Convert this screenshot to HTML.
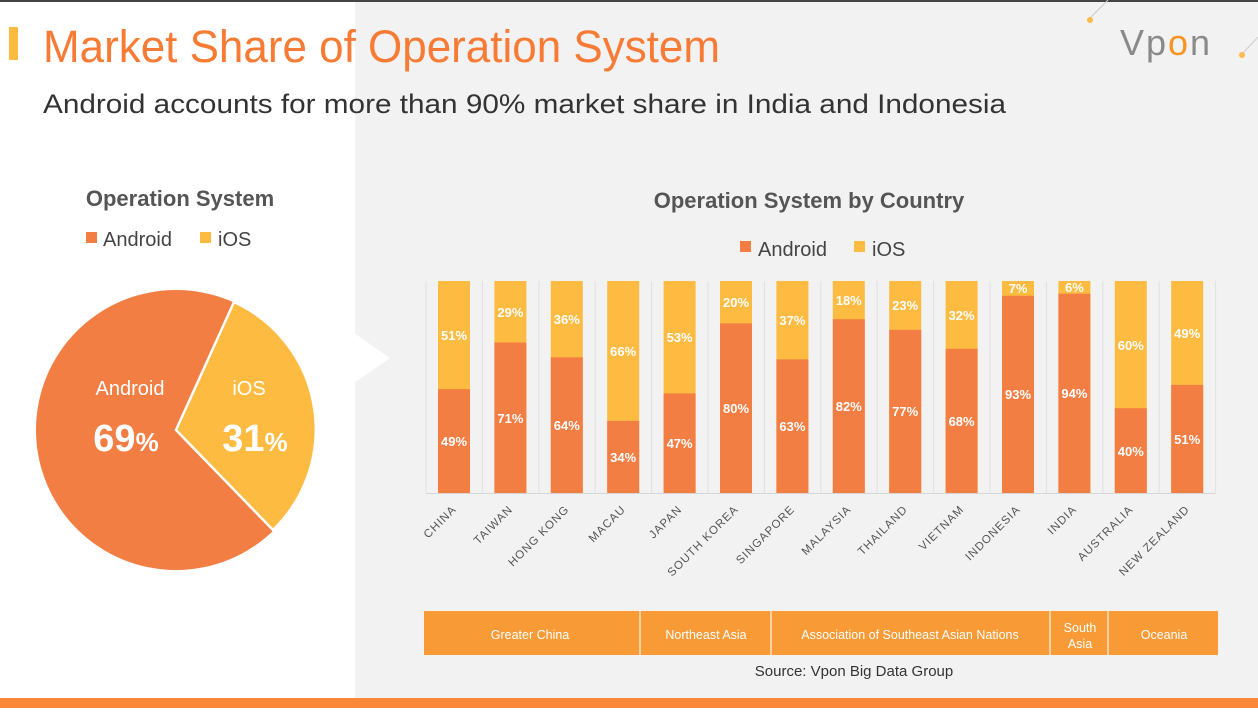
<!DOCTYPE html>
<html><head><meta charset="utf-8"><style>
html,body{margin:0;padding:0;}
body{width:1258px;height:708px;overflow:hidden;background:#fff;font-family:"Liberation Sans",sans-serif;}
</style></head><body>
<svg width="1258" height="708" xmlns="http://www.w3.org/2000/svg" font-family="Liberation Sans, sans-serif">
<rect x="0" y="0" width="1258" height="708" fill="#fff"/>
<rect x="355" y="0" width="903" height="698" fill="#f2f2f2"/>
<polygon points="354,333 390,358 354,383" fill="#fff"/>
<rect x="0" y="0" width="1258" height="2" fill="#444"/>
<rect x="0" y="698" width="1258" height="10" fill="#f98838"/>
<line x1="1090" y1="18" x2="1108" y2="0" stroke="#ccc" stroke-width="1"/>
<circle cx="1090" cy="20" r="3" fill="#fdb94a"/>
<line x1="1243" y1="53" x2="1258" y2="37" stroke="#ccc" stroke-width="1"/>
<circle cx="1242" cy="55" r="3" fill="#fdb94a"/>
<text x="1120" y="55" font-size="36" fill="#8a8a8a" textLength="90">Vp<tspan fill="#f7931e">o</tspan>n</text>
<rect x="9" y="27" width="9" height="33" fill="#fdbb3f"/>
<text x="43" y="62" font-size="45" fill="#f77b35" textLength="677" lengthAdjust="spacingAndGlyphs">Market Share of Operation System</text>
<text x="43" y="113" font-size="27" fill="#333" textLength="963" lengthAdjust="spacingAndGlyphs">Android accounts for more than 90% market share in India and Indonesia</text>
<text x="180" y="206" font-size="22" font-weight="bold" fill="#555" text-anchor="middle">Operation System</text>
<rect x="86" y="232" width="11" height="11" fill="#f27e43"/>
<text x="103" y="246" font-size="20" fill="#444">Android</text>
<rect x="200" y="232" width="11" height="11" fill="#febb41"/>
<text x="218" y="246" font-size="20" fill="#444">iOS</text>
<circle cx="176" cy="430" r="140" fill="#f27e43"/>
<path d="M176,430 L234,302 A140,140 0 0 1 273,530 Z" fill="#febb41" stroke="#fff" stroke-width="2.5"/>
<text x="130" y="395" font-size="20" fill="#fff" text-anchor="middle">Android</text>
<text x="126" y="451" font-size="38" font-weight="bold" fill="#fff" text-anchor="middle">69<tspan font-size="26">%</tspan></text>
<text x="249" y="395" font-size="20" fill="#fff" text-anchor="middle">iOS</text>
<text x="255" y="451" font-size="38" font-weight="bold" fill="#fff" text-anchor="middle">31<tspan font-size="26">%</tspan></text>
<text x="809" y="208" font-size="22" font-weight="bold" fill="#555" text-anchor="middle">Operation System by Country</text>
<rect x="740" y="241" width="11" height="11" fill="#f27e43"/>
<text x="758" y="256" font-size="20" fill="#444">Android</text>
<rect x="854" y="241" width="11" height="11" fill="#febb41"/>
<text x="872" y="256" font-size="20" fill="#444">iOS</text>
<g stroke="#e0e0e0" stroke-width="1">
<line x1="426" y1="281" x2="426" y2="493"/><line x1="482.4" y1="281" x2="482.4" y2="493"/><line x1="538.8" y1="281" x2="538.8" y2="493"/><line x1="595.2" y1="281" x2="595.2" y2="493"/><line x1="651.6" y1="281" x2="651.6" y2="493"/><line x1="708" y1="281" x2="708" y2="493"/><line x1="764.4" y1="281" x2="764.4" y2="493"/><line x1="820.8" y1="281" x2="820.8" y2="493"/><line x1="877.2" y1="281" x2="877.2" y2="493"/><line x1="933.6" y1="281" x2="933.6" y2="493"/><line x1="990" y1="281" x2="990" y2="493"/><line x1="1046.4" y1="281" x2="1046.4" y2="493"/><line x1="1102.8" y1="281" x2="1102.8" y2="493"/><line x1="1159.2" y1="281" x2="1159.2" y2="493"/><line x1="1215.6" y1="281" x2="1215.6" y2="493"/>
<line x1="426" y1="493.5" x2="1215.6" y2="493.5" stroke="#d6d6d6"/>
</g>
<g fill="#febb41">
<rect x="438" y="281" width="32" height="212"/><rect x="494.4" y="281" width="32" height="212"/><rect x="550.8" y="281" width="32" height="212"/><rect x="607.2" y="281" width="32" height="212"/><rect x="663.6" y="281" width="32" height="212"/><rect x="720" y="281" width="32" height="212"/><rect x="776.4" y="281" width="32" height="212"/><rect x="832.8" y="281" width="32" height="212"/><rect x="889.2" y="281" width="32" height="212"/><rect x="945.6" y="281" width="32" height="212"/><rect x="1002" y="281" width="32" height="212"/><rect x="1058.4" y="281" width="32" height="212"/><rect x="1114.8" y="281" width="32" height="212"/><rect x="1171.2" y="281" width="32" height="212"/>
</g>
<g fill="#f27e43">
<rect x="438" y="389.1" width="32" height="103.9"/>
<rect x="494.4" y="342.5" width="32" height="150.5"/>
<rect x="550.8" y="357.3" width="32" height="135.7"/>
<rect x="607.2" y="420.9" width="32" height="72.1"/>
<rect x="663.6" y="393.4" width="32" height="99.6"/>
<rect x="720" y="323.4" width="32" height="169.6"/>
<rect x="776.4" y="359.4" width="32" height="133.6"/>
<rect x="832.8" y="319.2" width="32" height="173.8"/>
<rect x="889.2" y="329.8" width="32" height="163.2"/>
<rect x="945.6" y="348.8" width="32" height="144.2"/>
<rect x="1002" y="295.8" width="32" height="197.2"/>
<rect x="1058.4" y="293.7" width="32" height="199.3"/>
<rect x="1114.8" y="408.2" width="32" height="84.8"/>
<rect x="1171.2" y="384.9" width="32" height="108.1"/>
</g>
<g font-size="13" font-weight="bold" fill="#fff" text-anchor="middle">
<text x="454" y="446">49%</text><text x="454" y="340">51%</text>
<text x="510.4" y="423">71%</text><text x="510.4" y="317">29%</text>
<text x="566.8" y="430">64%</text><text x="566.8" y="324">36%</text>
<text x="623.2" y="462">34%</text><text x="623.2" y="356">66%</text>
<text x="679.6" y="448">47%</text><text x="679.6" y="342">53%</text>
<text x="736" y="413">80%</text><text x="736" y="307">20%</text>
<text x="792.4" y="431">63%</text><text x="792.4" y="325">37%</text>
<text x="848.8" y="411">82%</text><text x="848.8" y="305">18%</text>
<text x="905.2" y="416">77%</text><text x="905.2" y="310">23%</text>
<text x="961.6" y="426">68%</text><text x="961.6" y="320">32%</text>
<text x="1018" y="399">93%</text><text x="1018" y="293">7%</text>
<text x="1074.4" y="398">94%</text><text x="1074.4" y="292">6%</text>
<text x="1130.8" y="456">40%</text><text x="1130.8" y="350">60%</text>
<text x="1187.2" y="444">51%</text><text x="1187.2" y="338">49%</text>
</g>
<g font-size="11.5" letter-spacing="1" fill="#555" text-anchor="end">
<text transform="translate(457,510) rotate(-45)">CHINA</text>
<text transform="translate(513.4,510) rotate(-45)">TAIWAN</text>
<text transform="translate(569.8,510) rotate(-45)">HONG KONG</text>
<text transform="translate(626.2,510) rotate(-45)">MACAU</text>
<text transform="translate(682.6,510) rotate(-45)">JAPAN</text>
<text transform="translate(739,510) rotate(-45)">SOUTH KOREA</text>
<text transform="translate(795.4,510) rotate(-45)">SINGAPORE</text>
<text transform="translate(851.8,510) rotate(-45)">MALAYSIA</text>
<text transform="translate(908.2,510) rotate(-45)">THAILAND</text>
<text transform="translate(964.6,510) rotate(-45)">VIETNAM</text>
<text transform="translate(1021,510) rotate(-45)">INDONESIA</text>
<text transform="translate(1077.4,510) rotate(-45)">INDIA</text>
<text transform="translate(1133.8,510) rotate(-45)">AUSTRALIA</text>
<text transform="translate(1190.2,510) rotate(-45)">NEW ZEALAND</text>
</g>
<rect x="424" y="611" width="794" height="44" fill="#f89a36"/>
<g stroke="#fde3c4" stroke-width="1.5">
<line x1="640" y1="611" x2="640" y2="655"/><line x1="771" y1="611" x2="771" y2="655"/>
<line x1="1050" y1="611" x2="1050" y2="655"/><line x1="1108" y1="611" x2="1108" y2="655"/>
</g>
<g font-size="12.5" fill="#fff" text-anchor="middle">
<text x="530" y="639">Greater China</text>
<text x="706" y="639">Northeast Asia</text>
<text x="910" y="639">Association of Southeast Asian Nations</text>
<text x="1080" y="632">South</text><text x="1080" y="648">Asia</text>
<text x="1164" y="639">Oceania</text>
</g>
<text x="854" y="676" font-size="15" fill="#333" text-anchor="middle">Source: Vpon Big Data Group</text>
</svg>
</body></html>
